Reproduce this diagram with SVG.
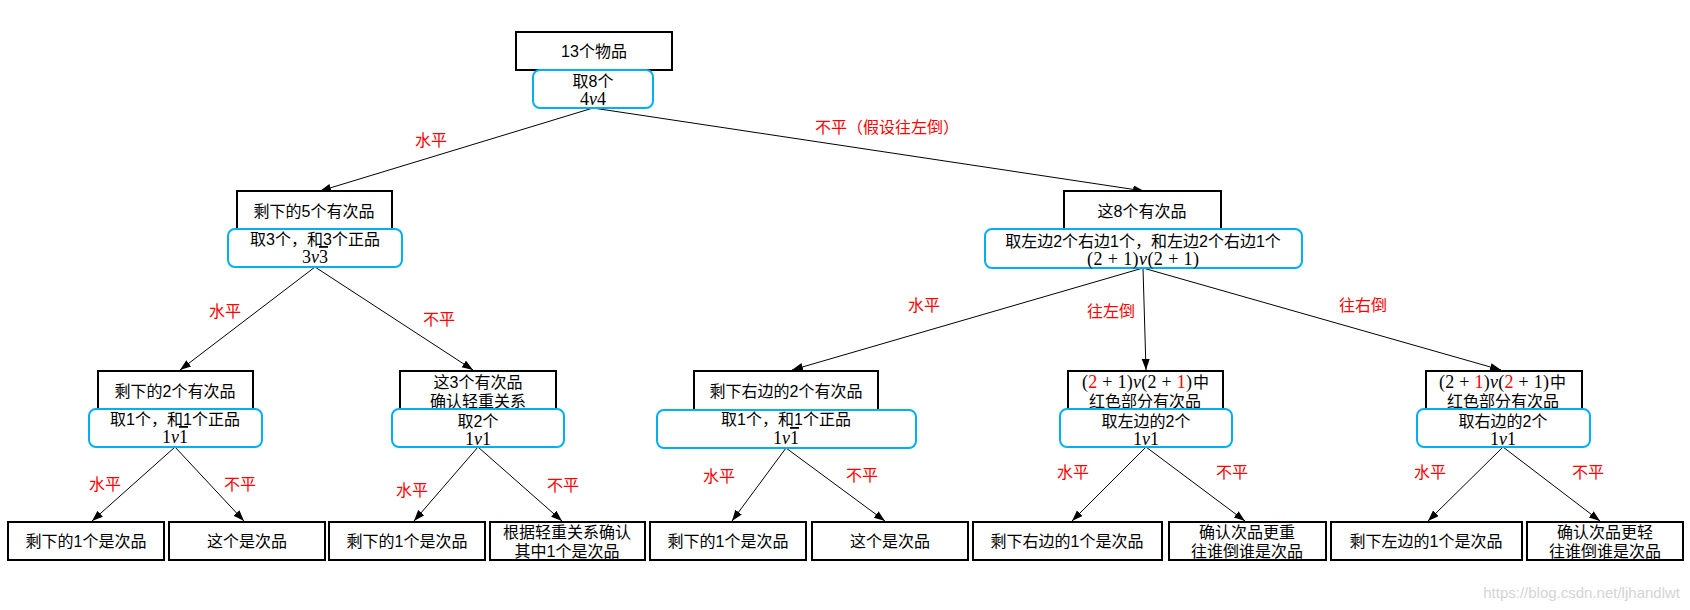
<svg xmlns="http://www.w3.org/2000/svg" width="1690" height="610" viewBox="0 0 1690 610">
<style>
.nb{fill:#fff;stroke:#000;stroke-width:2}
.bb{fill:#fff;stroke:#00B0F0;stroke-width:2}
.t{font-family:"Liberation Sans","Noto Sans CJK SC",sans-serif;font-size:16px;fill:#000;text-anchor:middle;dominant-baseline:central}
.m{font-family:"Liberation Serif","DejaVu Serif",serif;font-size:18px;fill:#000;text-anchor:middle;dominant-baseline:central}
.r{font-family:"Liberation Sans","Noto Sans CJK SC",sans-serif;font-size:16px;fill:#FF0000;text-anchor:middle;dominant-baseline:central}
.red{fill:#FF0000}
.i{font-style:italic}
.ov{text-decoration:overline}
.e{stroke:#000;stroke-width:1;fill:none;marker-end:url(#arr)}
.wm{font-family:"Liberation Sans",sans-serif;font-size:15px;fill:#d4d4d4;text-anchor:end;dominant-baseline:central}
</style>
<defs>
<marker id="arr" markerUnits="userSpaceOnUse" markerWidth="12" markerHeight="10" refX="11" refY="4" orient="auto">
<path d="M0,0 L11,4 L0,8 Z" fill="#000"/>
</marker>
</defs>
<rect width="1690" height="610" fill="#fff"/>
<g id="connectors">
<line class="e" x1="593" y1="108" x2="320" y2="191"/>
<line class="e" x1="593" y1="108" x2="1144" y2="191"/>
<line class="e" x1="315" y1="267" x2="180" y2="370"/>
<line class="e" x1="315" y1="267" x2="473" y2="370"/>
<line class="e" x1="1143" y1="268" x2="792" y2="370"/>
<line class="e" x1="1143" y1="268" x2="1146" y2="370"/>
<line class="e" x1="1143" y1="268" x2="1501" y2="370"/>
<line class="e" x1="175" y1="447" x2="92" y2="521"/>
<line class="e" x1="175" y1="447" x2="244" y2="521"/>
<line class="e" x1="478" y1="447" x2="414" y2="521"/>
<line class="e" x1="478" y1="447" x2="562" y2="521"/>
<line class="e" x1="786" y1="448" x2="732" y2="521"/>
<line class="e" x1="786" y1="448" x2="885" y2="521"/>
<line class="e" x1="1146" y1="447" x2="1072" y2="521"/>
<line class="e" x1="1146" y1="447" x2="1245" y2="521"/>
<line class="e" x1="1503" y1="447" x2="1428" y2="521"/>
<line class="e" x1="1503" y1="447" x2="1600" y2="521"/>
</g>
<g id="labels">
<text class="r" x="431" y="140">水平</text>
<text class="r" x="887" y="127">不平（假设往左倒）</text>
<text class="r" x="225" y="311">水平</text>
<text class="r" x="439" y="319">不平</text>
<text class="r" x="924" y="305">水平</text>
<text class="r" x="1111" y="311">往左倒</text>
<text class="r" x="1363" y="305">往右倒</text>
<text class="r" x="105" y="484">水平</text>
<text class="r" x="240" y="484">不平</text>
<text class="r" x="412" y="490">水平</text>
<text class="r" x="563" y="485">不平</text>
<text class="r" x="719" y="476">水平</text>
<text class="r" x="862" y="475">不平</text>
<text class="r" x="1073" y="472">水平</text>
<text class="r" x="1232" y="472">不平</text>
<text class="r" x="1430" y="472">水平</text>
<text class="r" x="1588" y="472">不平</text>
</g>
<g id="n0">
<rect class="nb" x="516" y="32" width="156" height="38"/>
<text class="t" x="594" y="51">13个物品</text>
<rect class="bb" x="533" y="70" width="120" height="38" rx="7"/>
<text class="t" x="593" y="81">取8个</text>
<text class="m" x="593" y="99">4<tspan class="i">v</tspan>4</text>
</g>
<g id="n1">
<rect class="nb" x="237" y="191" width="155" height="40"/>
<text class="t" x="314" y="211">剩下的5个有次品</text>
<rect class="bb" x="228" y="229" width="174" height="38" rx="7"/>
<text class="t" x="315" y="239">取3个，和3个正品</text>
<text class="m" x="315" y="257">3<tspan class="i">v</tspan><tspan class="ov">3</tspan></text>
</g>
<g id="n2">
<rect class="nb" x="1064" y="191" width="157" height="40"/>
<text class="t" x="1142" y="211">这8个有次品</text>
<rect class="bb" x="985" y="229" width="317" height="39" rx="7"/>
<text class="t" x="1143" y="241">取左边2个右边1个，和左边2个右边1个</text>
<text class="m" x="1143" y="259" textLength="112" lengthAdjust="spacing">(2 + 1)<tspan class="i">v</tspan>(2 + 1)</text>
</g>
<g id="n3">
<rect class="nb" x="98" y="371" width="155" height="40"/>
<text class="t" x="175" y="391">剩下的2个有次品</text>
<rect class="bb" x="89" y="409" width="173" height="38" rx="7"/>
<text class="t" x="175" y="419">取1个，和1个正品</text>
<text class="m" x="175" y="437">1<tspan class="i">v</tspan><tspan class="ov">1</tspan></text>
</g>
<g id="n4">
<rect class="nb" x="400" y="371" width="156" height="40"/>
<text class="t" x="478" y="382">这3个有次品</text>
<text class="t" x="478" y="401">确认轻重关系</text>
<rect class="bb" x="392" y="409" width="172" height="38" rx="7"/>
<text class="t" x="478" y="421">取2个</text>
<text class="m" x="478" y="439">1<tspan class="i">v</tspan>1</text>
</g>
<g id="n5">
<rect class="nb" x="694" y="371" width="184" height="40"/>
<text class="t" x="786" y="391">剩下右边的2个有次品</text>
<rect class="bb" x="657" y="410" width="259" height="38" rx="7"/>
<text class="t" x="786" y="419">取1个，和1个正品</text>
<text class="m" x="786" y="438">1<tspan class="i">v</tspan><tspan class="ov">1</tspan></text>
</g>
<g id="n6">
<rect class="nb" x="1068" y="371" width="155" height="40"/>
<text class="m" x="1137" y="382" textLength="110" lengthAdjust="spacing">(<tspan class="red">2</tspan> + 1)<tspan class="i">v</tspan>(2 + <tspan class="red">1</tspan>)</text>
<text class="t" x="1201" y="382">中</text>
<text class="t" x="1145" y="401">红色部分有次品</text>
<rect class="bb" x="1060" y="409" width="172" height="38" rx="7"/>
<text class="t" x="1146" y="421">取左边的2个</text>
<text class="m" x="1146" y="439">1<tspan class="i">v</tspan>1</text>
</g>
<g id="n7">
<rect class="nb" x="1426" y="371" width="156" height="40"/>
<text class="m" x="1494" y="382" textLength="110" lengthAdjust="spacing">(2 + <tspan class="red">1</tspan>)<tspan class="i">v</tspan>(<tspan class="red">2</tspan> + 1)</text>
<text class="t" x="1558" y="382">中</text>
<text class="t" x="1503" y="401">红色部分有次品</text>
<rect class="bb" x="1417" y="409" width="173" height="38" rx="7"/>
<text class="t" x="1503" y="421">取右边的2个</text>
<text class="m" x="1503" y="439">1<tspan class="i">v</tspan>1</text>
</g>
<g id="b1"><rect class="nb" x="8" y="522" width="156" height="38"/><text class="t" x="86" y="541">剩下的1个是次品</text></g>
<g id="b2"><rect class="nb" x="169" y="522" width="156" height="38"/><text class="t" x="247" y="541">这个是次品</text></g>
<g id="b3"><rect class="nb" x="329" y="522" width="156" height="38"/><text class="t" x="407" y="541">剩下的1个是次品</text></g>
<g id="b4"><rect class="nb" x="490" y="522" width="155" height="38"/><text class="t" x="567" y="532">根据轻重关系确认</text><text class="t" x="567" y="551">其中1个是次品</text></g>
<g id="b5"><rect class="nb" x="650" y="522" width="156" height="38"/><text class="t" x="728" y="541">剩下的1个是次品</text></g>
<g id="b6"><rect class="nb" x="812" y="522" width="156" height="38"/><text class="t" x="890" y="541">这个是次品</text></g>
<g id="b7"><rect class="nb" x="973" y="522" width="189" height="38"/><text class="t" x="1067" y="541">剩下右边的1个是次品</text></g>
<g id="b8"><rect class="nb" x="1169" y="522" width="157" height="38"/><text class="t" x="1247" y="532">确认次品更重</text><text class="t" x="1247" y="551">往谁倒谁是次品</text></g>
<g id="b9"><rect class="nb" x="1331" y="522" width="191" height="38"/><text class="t" x="1426" y="541">剩下左边的1个是次品</text></g>
<g id="b10"><rect class="nb" x="1527" y="522" width="156" height="38"/><text class="t" x="1605" y="532">确认次品更轻</text><text class="t" x="1605" y="551">往谁倒谁是次品</text></g>
<text class="wm" x="1680" y="592">https://blog.csdn.net/ljhandlwt</text>
</svg>
